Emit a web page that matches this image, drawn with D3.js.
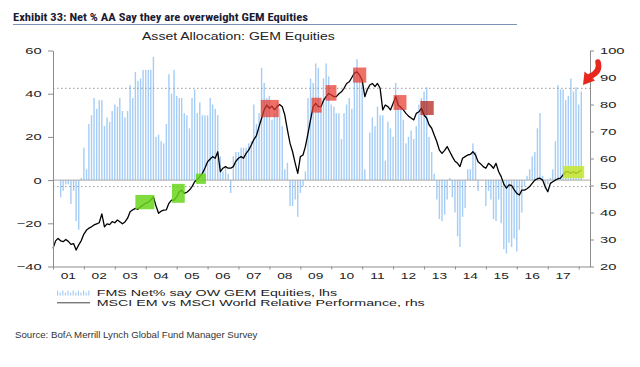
<!DOCTYPE html>
<html><head><meta charset="utf-8">
<script src="https://cdn.jsdelivr.net/npm/d3@7"></script>
<style>
html,body{margin:0;padding:0;background:#fff;}
svg{display:block;}
text{font-family:"Liberation Sans",Arial,Helvetica,sans-serif;}
</style></head><body>
<svg id="chart" width="640" height="367"></svg>
<script>
// ---------------- DATA ----------------
// FMS net % overweight GEM equities (lhs), monthly from Apr 2001
const fmsStart = "2001-04-01";
const fmsValues = [
 -8,-5,-2,-2,-11,-5,-19,-23,1,
 15,5,26,30,38,33,37,37,25,29,27,32,
 35,34,38,32,29,32,44,38,50,46,47,51,
 51,51,51,57,20,21,18,17,26,49,40,51,
 39,38,38,31,30,24,38,42,31,36,30,30,
 30,38,35,33,30,11,4,6,3,-6,11,13,
 13,15,15,15,17,18,35,26,31,52,45,38,
 39,28,31,36,33,25,5,8,-12,-12,-9,-17,
 -6,-3,4,38,47,45,54,52,34,47,54,48,
 35,34,31,31,19,31,35,38,33,51,56,49,
 46,5,null,22,29,25,34,30,30,9,27,24,
 20,45,39,34,28,17,20,23,19,25,35,38,
 41,43,20,13,3,-9,-18,-19,-16,-9,1,-8,
 -15,-26,-31,-17,-13,5,5,17,13,-5,null,null,
 -12,-5,-9,-18,-19,-9,-20,-32,-34,-29,-31,-27,
 -33,-23,-15,-3,2,5,11,13,24,31,2,-4,
 -2,1,5,18,44,42,42,37,39,47,41,43,
 35,41
];
// MSCI EM vs MSCI World relative performance (rhs), monthly from Jan 2001
const relStart = "2001-01-01";
const relPerf = [
 26.7,29.5,30.4,29.5,29.2,30,29.3,28.2,28.5,26.1,28,29.6,
 32,33.5,34.2,34.7,35.4,35.8,36.2,39.5,34.7,35.8,35.5,36.6,
 36.2,37.2,36.6,35.8,36.5,37.9,40.3,41,41.5,41.2,42.1,42.8,
 43.4,43.8,44.6,45.8,42.5,39.7,40.5,40.9,41,43.4,44.6,44.6,
 45.8,47.7,48.3,47.1,47.5,48.3,49.6,51.4,52.2,53.3,54.5,56.5,
 58.8,59.8,60.7,60.1,62.5,55.1,56.4,57,56.4,56.4,57,59,
 60.1,60.7,60.1,61.9,63.1,65,67,68.5,71.8,74.9,78,79.8,
 78.6,79.4,78,79.2,80,79.2,76.1,70.6,65.6,62.5,58.2,54.5,
 60.7,61.3,64.4,69.3,74.3,79.2,80.4,79.2,79.2,81.5,82.9,84.1,
 83.5,82.9,82.9,84,84.7,86,87.8,88.4,90,91.6,92.1,90.9,
 89,82.9,85.4,87.2,87.8,86.6,87.8,86,78,79.8,79.2,78,
 80.4,82.9,79.8,79,78,76.7,75.7,75,74.3,76.7,77.3,78.6,
 76.1,74.9,72.5,71.2,68.7,66.2,63.1,61.9,63,64.4,62.5,60.7,
 59,58.2,57,60.1,60.7,61.3,61.5,62.5,61.3,58.8,58,57,
 56.4,58.2,57.5,56.4,58.2,55.1,53.3,50.5,49,50.2,50,48.5,
 47.1,46.5,48.3,48.3,48.8,49.6,50.8,52,52.5,52.7,52,49.6,
 47.7,50.8,51.4,52,52.5,52.7,53.9,55.1,55.1,54.5,55.1,54.5,
 55,55.7
];
const yearLabels = ["01","02","03","04","05","06","07","08","09","10","11","12","13","14","15","16","17"];
const leftTicks = [-40,-20,0,20,40,60];
const rightTicks = [20,30,40,50,60,70,80,90,100];
const dottedLevels = [42.5,-3];   // lhs
// highlight boxes: date range and rhs value range
const redBoxes = [
 {from:"2007-09-21",to:"2008-04-21",lo:75.3,hi:81.7,dark:false},
 {from:"2009-05-12",to:"2009-09-09",lo:77,hi:82.5,dark:false},
 {from:"2009-10-28",to:"2010-03-03",lo:81.4,hi:87.2,dark:false},
 {from:"2010-09-15",to:"2011-02-18",lo:88.1,hi:93.7,dark:false},
 {from:"2012-01-07",to:"2012-06-07",lo:78,hi:83.5,dark:false},
 {from:"2012-11-19",to:"2013-04-25",lo:76.1,hi:81.3,dark:true}
];
const greenBoxes = [
 {from:"2003-09-01",to:"2004-04-13",lo:41.2,hi:46.5},
 {from:"2004-11-06",to:"2005-04-06",lo:43.6,hi:50.6},
 {from:"2005-08-16",to:"2005-12-13",lo:50.6,hi:54.4}
];
const yellowBoxes = [
 {from:"2017-07-01",to:"2018-03-07",lo:52.7,hi:57.2}
];
const titleText = "Exhibit 33: Net % AA Say they are overweight GEM Equities";
const subtitleText = "Asset Allocation: GEM Equities";
const legendTexts = ["FMS Net% say OW GEM Equities, lhs","MSCI EM vs MSCI World Relative Performance, rhs"];
const sourceText = "Source: BofA Merrill Lynch Global Fund Manager Survey";

// ---------------- CHART ----------------
const svg = d3.select("#chart");
const L = 53, R = 590, T = 50.5, B = 266.5;
const parse = d3.timeParse("%Y-%m-%d");
const x = d3.scaleTime().domain([new Date(2001,0,1), new Date(2018,4,15)]).range([L,R]);
const yL = d3.scaleLinear().domain([-40,60]).range([B,T]);
const yR = d3.scaleLinear().domain([20,100]).range([B,T]);
const K = 1.55;   // horizontal stretch of chart lettering
const FS = 9.5;

const fms = fmsValues.map((v,i)=>({date:d3.timeMonth.offset(parse(fmsStart),i), v}));
const rel = relPerf.map((v,i)=>({date:d3.timeMonth.offset(parse(relStart),i), v}));

// bars
svg.append("g").selectAll("rect").data(fms.filter(d=>d.v!==null)).join("rect")
  .attr("x", d=>x(d.date)-0.7).attr("width",1.4)
  .attr("y", d=>yL(Math.max(0,d.v)))
  .attr("height", d=>Math.abs(yL(d.v)-yL(0)))
  .attr("fill","#a5cdf5");

// zero line
svg.append("line").attr("x1",L).attr("x2",R).attr("y1",yL(0)).attr("y2",yL(0))
  .attr("stroke","#a8a8a8").attr("stroke-width",1);

// dotted levels
svg.append("g").selectAll("line").data(dottedLevels).join("line")
  .attr("x1",L).attr("x2",R).attr("y1",d=>yL(d)).attr("y2",d=>yL(d))
  .attr("stroke","#9a9a9a").attr("stroke-width",1).attr("stroke-dasharray","1.5,2.5");

// relative performance line
svg.append("path").datum(rel)
  .attr("d", d3.line().x(d=>x(d.date)).y(d=>yR(d.v)))
  .attr("fill","none").attr("stroke","#000").attr("stroke-width",1.3).attr("stroke-linejoin","round");

// highlight boxes
function boxes(data, fill, op){
  svg.append("g").selectAll("rect").data(data).join("rect")
    .attr("x", d=>x(parse(d.from))).attr("width", d=>x(parse(d.to))-x(parse(d.from)))
    .attr("y", d=>yR(d.hi)).attr("height", d=>yR(d.lo)-yR(d.hi))
    .attr("fill", typeof fill==="function"?fill:()=>fill).attr("fill-opacity",op);
}
boxes(redBoxes, d=>d.dark?"#b01e16":"#e8392c", 0.72);
boxes(greenBoxes, "#6ad61c", 0.85);
boxes(yellowBoxes, "#c6e62c", 0.85);

// axes
const gL = svg.append("g").attr("transform",`translate(${L},0)`)
  .call(d3.axisLeft(yL).tickValues(leftTicks).tickSize(5).tickSizeOuter(0).tickFormat(d3.format("d")));
const gR = svg.append("g").attr("transform",`translate(${R},0)`)
  .call(d3.axisRight(yR).tickValues(rightTicks).tickSize(4).tickSizeOuter(0).tickFormat(d3.format("d")));
const yearTicks = d3.range(2001,2019).map(y=>new Date(y,0,1));
const gX = svg.append("g").attr("transform",`translate(0,${B})`)
  .call(d3.axisBottom(x).tickValues(yearTicks).tickSize(3).tickSizeOuter(0).tickFormat(""));
[gL,gR,gX].forEach(g=>{
  g.select(".domain").attr("stroke","#8c8c8c");
  g.selectAll(".tick line").attr("stroke","#8c8c8c");
});
gL.selectAll(".tick text").attr("x",-11.3/K).attr("transform",`scale(${K},1)`)
  .style("font-size",FS+"px").attr("fill","#222");
gR.selectAll(".tick text").attr("x",10/K).attr("transform",`scale(${K},1)`)
  .style("font-size",FS+"px").attr("fill","#222");
svg.append("g").selectAll("text").data(yearLabels).join("text")
  .attr("transform",(d,i)=>`translate(${x(new Date(2001+i,6,1))},${B+12.5}) scale(1.45,1)`)
  .attr("text-anchor","middle").style("font-size",FS+"px").attr("fill","#222").text(d=>d);

// stretched text helper
function fitText(str, x0, y0, size, width, opts={}){
  const t = svg.append("text").attr("transform",`translate(${x0},${y0})`)
    .style("font-size",size+"px").attr("fill",opts.fill||"#222")
    .style("font-weight",opts.weight||"normal").text(str);
  if(opts.family) t.style("font-family",opts.family);
  const w = t.node().getComputedTextLength();
  t.attr("transform",`translate(${x0},${y0}) scale(${width/w},1)`);
  return t;
}
// title + rule
fitText(titleText, 13, 21, 11.8, 295, {weight:"bold", fill:"#1b1b33", family:"'Liberation Sans Narrow','Roboto Condensed','Liberation Sans',Arial,sans-serif"});
svg.append("line").attr("x1",13).attr("x2",517).attr("y1",24.5).attr("y2",24.5)
  .attr("stroke","#7f93b8").attr("stroke-width",1);
// subtitle
fitText(subtitleText, 142, 39.5, 10.8, 193);
// legend
const lg = svg.append("g");
const iconH = [5,3,5,3,5,3,5,3,5,3,5,3,5];
lg.selectAll("rect").data(iconH).join("rect")
  .attr("x",(d,i)=>57+i*2.6).attr("width",1.2)
  .attr("y",d=>295.5-d).attr("height",d=>d).attr("fill","#a5cdf5");
lg.append("line").attr("x1",57).attr("x2",90).attr("y1",302.8).attr("y2",302.8)
  .attr("stroke","#444").attr("stroke-width",1);
legendTexts.forEach((s,i)=>{
  lg.append("text").attr("transform",`translate(96.7,${295.5+i*10}) scale(1.62,1)`)
    .style("font-size","8.8px").attr("fill","#222").text(s);
});
// source
fitText(sourceText, 15, 338, 9, 243, {fill:"#333"});

// red arrow annotation near latest reading
const ag = svg.append("g");
ag.append("path").attr("d","M598,62 Q601,72 589.5,76.5")
  .attr("fill","none").attr("stroke","#e8281c").attr("stroke-width",5.5).attr("stroke-linecap","round");
ag.append("path").attr("d","M583,85 L595,80.5 L584.5,71.5 Z").attr("fill","#e8281c");
</script>
</body></html>
